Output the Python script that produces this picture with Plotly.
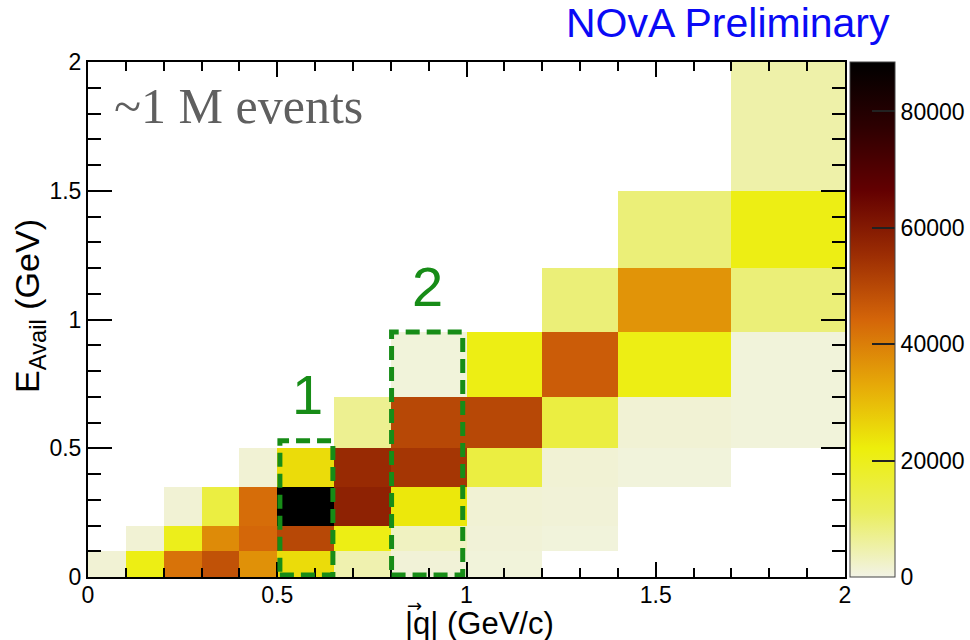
import plotly.graph_objects as go

# ---- data ----
q_edges = [0, 0.1, 0.2, 0.3, 0.4, 0.5, 0.65, 0.8, 1.0, 1.2, 1.4, 1.7, 2.0]
e_edges = [0, 0.1, 0.2, 0.35, 0.5, 0.7, 0.95, 1.2, 1.5, 2.0]

row_000_010 = [1500, 21000, 42000, 48000, 37000, 25000, 4500, 1200, 1000, 0, 0, 0]
row_010_020 = [0, 1500, 20000, 38000, 44000, 50000, 21000, 3000, 1200, 900, 0, 0]
row_020_035 = [0, 0, 1500, 15000, 43000, 88500, 58000, 23000, 1500, 1200, 0, 0]
row_035_050 = [0, 0, 0, 0, 1500, 25000, 56000, 53500, 15000, 1500, 900, 0]
row_050_070 = [0, 0, 0, 0, 0, 0, 7000, 50000, 50000, 15000, 1500, 1000]
row_070_095 = [0, 0, 0, 0, 0, 0, 0, 1000, 21000, 46000, 21000, 1000]
row_095_120 = [0, 0, 0, 0, 0, 0, 0, 0, 0, 9000, 36500, 9000]
row_120_150 = [0, 0, 0, 0, 0, 0, 0, 0, 0, 0, 9000, 21000]
row_150_200 = [0, 0, 0, 0, 0, 0, 0, 0, 0, 0, 0, 5000]

z_max = 88500
cbar_ticks = [0, 20000, 40000, 60000, 80000]
cbar_ticklabels = ["0", "20000", "40000", "60000", "80000"]
axis_ticks = [0, 0.5, 1, 1.5, 2]
axis_ticklabels = ["0", "0.5", "1", "1.5", "2"]

box1_q = [0.507, 0.647]
box1_e = [0.008, 0.529]
box2_q = [0.802, 0.99]
box2_e = [0.008, 0.951]
label1_pos = [0.579, 0.707]
label2_pos = [0.896, 1.13]

rows = [row_000_010, row_010_020, row_020_035, row_035_050, row_050_070,
        row_070_095, row_095_120, row_120_150, row_150_200]
z = [[(v if v > 0 else None) for v in r] for r in rows]

colorscale = [
    [0.0, "rgb(242,243,230)"],
    [0.125, "rgb(234,238,95)"],
    [0.25, "rgb(237,238,11)"],
    [0.375, "rgb(230,168,8)"],
    [0.5, "rgb(212,101,9)"],
    [0.625, "rgb(156,45,3)"],
    [0.75, "rgb(99,0,1)"],
    [0.875, "rgb(45,0,1)"],
    [1.0, "rgb(0,0,0)"],
]

FONT = "Liberation Sans, Arial, sans-serif"
GREEN = "#178c17"

fig = go.Figure()
fig.add_trace(go.Heatmap(
    x=q_edges, y=e_edges, z=z,
    colorscale=colorscale, zmin=0, zmax=z_max,
    hoverongaps=False,
    colorbar=dict(
        x=(850 - 88) / 757, xanchor="left", xpad=0, ypad=0,
        y=0.5, yanchor="middle", len=1.0, lenmode="fraction",
        thickness=45, thicknessmode="pixels",
        outlinewidth=1, outlinecolor="#444",
        tickvals=cbar_ticks, ticktext=cbar_ticklabels,
        ticks="inside", ticklen=23, tickwidth=1.5,
        tickcolor="#222",
        tickfont=dict(family=FONT, size=23, color="black"),
    ),
))

# Dashed boxes
for bq, be in [(box1_q, box1_e), (box2_q, box2_e)]:
    fig.add_shape(type="rect", xref="x", yref="y",
                  x0=bq[0], x1=bq[1], y0=be[0], y1=be[1],
                  line=dict(color=GREEN, width=5, dash="14px,7px"),
                  fillcolor="rgba(0,0,0,0)", layer="above")

def px_to_paper(px, py):
    return (px - 88) / 757, (577 - py) / 515

ann = []
x, y = px_to_paper(728, 23)
ann.append(dict(text="NOvA Preliminary", x=x, y=y, xref="paper", yref="paper",
                showarrow=False, xanchor="center", yanchor="middle",
                font=dict(family=FONT, size=41, color="#0a0af5")))
x, y = px_to_paper(238, 106)
ann.append(dict(text="~1 M events", x=x, y=y, xref="paper", yref="paper",
                showarrow=False, xanchor="center", yanchor="middle",
                font=dict(family="Liberation Serif, DejaVu Serif, serif", size=50, color="#5f5f5f")))
ann.append(dict(text="1", x=label1_pos[0], y=label1_pos[1], xref="x", yref="y",
                showarrow=False, xanchor="center", yanchor="middle",
                font=dict(family=FONT, size=56, color=GREEN)))
ann.append(dict(text="2", x=label2_pos[0], y=label2_pos[1], xref="x", yref="y",
                showarrow=False, xanchor="center", yanchor="middle",
                font=dict(family=FONT, size=56, color=GREEN)))
x, y = px_to_paper(29, 306)
ann.append(dict(text="E<sub>Avail</sub> (GeV)", x=x, y=y, xref="paper", yref="paper",
                showarrow=False, xanchor="center", yanchor="middle", textangle=-90,
                font=dict(family=FONT, size=34, color="black")))
x, y = px_to_paper(479, 623)
ann.append(dict(text="|q| (GeV/c)", x=x, y=y, xref="paper", yref="paper",
                showarrow=False, xanchor="center", yanchor="middle",
                font=dict(family=FONT, size=31, color="black")))
x, y = px_to_paper(414, 606)
ann.append(dict(text="→", x=x, y=y, xref="paper", yref="paper",
                showarrow=False, xanchor="center", yanchor="middle",
                font=dict(family="DejaVu Sans, sans-serif", size=18, color="black")))

axis_common = dict(
    tickvals=axis_ticks, ticktext=axis_ticklabels,
    showline=True, linewidth=2, linecolor="black", mirror="allticks",
    ticks="inside", tickwidth=1.5, tickcolor="black",
    showgrid=False, zeroline=False,
    tickfont=dict(family=FONT, size=23, color="black"),
)

fig.update_layout(
    width=970, height=640,
    margin=dict(l=88, r=125, t=62, b=63, pad=0, autoexpand=False),
    paper_bgcolor="white", plot_bgcolor="white",
    xaxis=dict(range=[0, 2], ticklen=15, ticklabelstandoff=-4,
               minor=dict(dtick=0.1, ticks="inside", ticklen=9, tickwidth=1.5,
                          tickcolor="black", showgrid=False),
               **axis_common),
    yaxis=dict(range=[0, 2], ticklen=24,
               minor=dict(dtick=0.1, ticks="inside", ticklen=13, tickwidth=1.5,
                          tickcolor="black", showgrid=False),
               **axis_common),
    annotations=ann,
    showlegend=False,
)

fig.write_html("out.html")
